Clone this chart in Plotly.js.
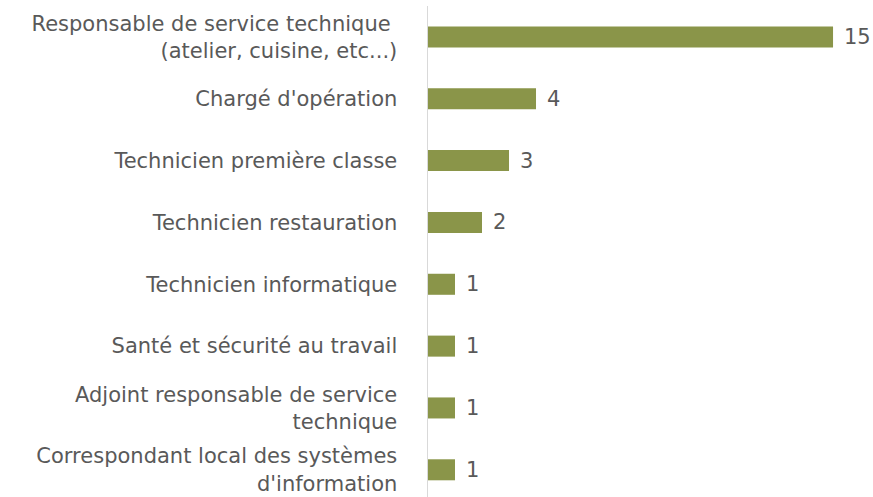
<!DOCTYPE html>
<html><head><meta charset="utf-8">
<script src="https://cdn.plot.ly/plotly-3.0.1.min.js"></script>
<style>html,body{margin:0;padding:0;background:#fff}#chart{width:873px;height:497px}</style>
</head><body><div id="chart"></div>
<script>
const categories = [
  "Responsable de service technique <br>(atelier, cuisine, etc...)",
  "Chargé d'opération",
  "Technicien première classe",
  "Technicien restauration",
  "Technicien informatique",
  "Santé et sécurité au travail",
  "Adjoint responsable de service<br>technique",
  "Correspondant local des systèmes<br>d'information"
];
const values = [15, 4, 3, 2, 1, 1, 1, 1];

const font = {family: "DejaVu Sans, sans-serif", size: 21, color: "#595959"};
const valFont = {family: "DejaVu Sans, sans-serif", size: 21, color: "#595959"};
const trace = {
  type: "bar", orientation: "h",
  x: values, y: categories,
  marker: {color: "#8A9549", line: {width: 0}},
  width: 0.34,
  hoverinfo: "none"
};
const annotations = values.map((v, i) => ({
  x: v, y: categories[i], xref: "x", yref: "y",
  text: String(v), showarrow: false, xanchor: "left", xshift: 9,
  font: valFont
}));
const layout = {
  width: 873, height: 497,
  margin: {l: 428, r: 0, t: 6, b: 0},
  paper_bgcolor: "#fff", plot_bgcolor: "#fff",
  showlegend: false,
  xaxis: {range: [0, 16.48], showgrid: false, zeroline: false, showticklabels: false, showline: false, fixedrange: true},
  yaxis: {type: "category", range: [7.44, -0.5], showgrid: false, zeroline: false,
          showline: true, linecolor: "#d9d9d9", linewidth: 1.5,
          ticks: "", ticklabelstandoff: 25, tickfont: font, fixedrange: true},
  annotations: annotations
};
Plotly.newPlot("chart", [trace], layout, {displayModeBar: false, staticPlot: true});
</script></body></html>
